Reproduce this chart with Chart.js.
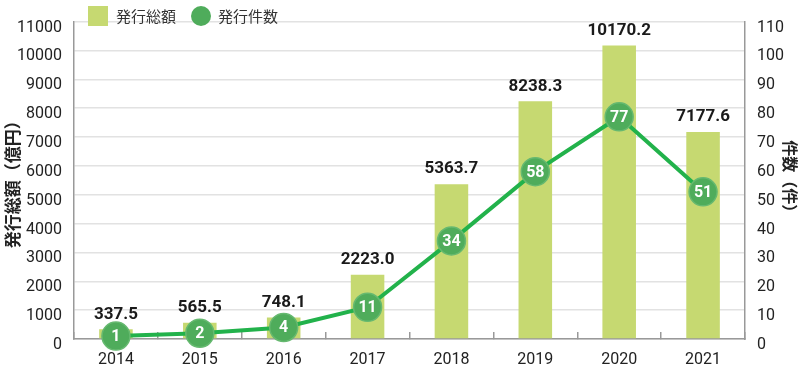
<!DOCTYPE html>
<html lang="ja">
<head>
<meta charset="utf-8">
<script src="https://cdn.jsdelivr.net/npm/chart.js@4"></script>
<style>
  html, body { margin: 0; padding: 0; background: #fff; }
  #wrap { width: 800px; height: 374px; }
</style>
</head>
<body>
<div id="wrap"><canvas id="chart" width="800" height="374"></canvas></div>
<script>
// データ
const years = ['2014', '2015', '2016', '2017', '2018', '2019', '2020', '2021'];
const amounts = [337.5, 565.5, 748.1, 2223.0, 5363.7, 8238.3, 10170.2, 7177.6]; // 発行総額（億円）
const counts = [1, 2, 4, 11, 34, 58, 77, 51]; // 発行件数（件）
const seriesNames = ['発行総額', '発行件数'];
const axisTitles = ['発行総額（億円）', '件数（件）'];

const FONT = "Roboto, 'Noto Sans CJK JP', sans-serif";
const JP_FONT = "'Noto Sans CJK JP', sans-serif";
const BAR_COLOR = '#c6d971';
const LINE_COLOR = '#22b24b';
const POINT_COLOR = '#4fac5b';

// 凡例（グラフ領域の左上に描画）
const legendPlugin = {
  id: 'topLegend',
  afterDraw(chart) {
    const ctx = chart.ctx;
    const y = 16;
    ctx.save();
    ctx.fillStyle = BAR_COLOR;
    ctx.fillRect(88, y - 10, 20, 20);
    ctx.fillStyle = POINT_COLOR;
    ctx.beginPath();
    ctx.arc(201, y, 10, 0, Math.PI * 2);
    ctx.fill();
    ctx.fillStyle = '#333';
    ctx.font = '15px ' + JP_FONT;
    ctx.textBaseline = 'middle';
    ctx.fillText(seriesNames[0], 116, y);
    ctx.fillText(seriesNames[1], 218, y);
    ctx.restore();
  }
};

// 値ラベル（棒の上と丸の中）
const valueLabels = {
  id: 'valueLabels',
  afterDatasetsDraw(chart) {
    const ctx = chart.ctx;
    ctx.save();
    ctx.textAlign = 'center';
    ctx.textBaseline = 'middle';
    ctx.font = 'bold 17px ' + FONT;
    ctx.fillStyle = '#1a1a1a';
    chart.getDatasetMeta(0).data.forEach((bar, i) => {
      ctx.fillText(amounts[i].toFixed(1), bar.x, bar.y - 15);
    });
    ctx.font = 'bold 16px ' + FONT;
    ctx.fillStyle = '#fff';
    chart.getDatasetMeta(1).data.forEach((pt, i) => {
      ctx.fillText(String(counts[i]), pt.x, pt.y + 1);
    });
    ctx.restore();
  }
};

const tickFont = { family: FONT, size: 16 };
const plain = (v) => String(v);

new Chart(document.getElementById('chart'), {
  data: {
    labels: years,
    datasets: [
      {
        type: 'bar',
        label: seriesNames[0],
        data: amounts,
        yAxisID: 'y',
        backgroundColor: BAR_COLOR,
        barPercentage: 0.4,
        categoryPercentage: 1,
        order: 1
      },
      {
        type: 'line',
        label: seriesNames[1],
        data: counts,
        yAxisID: 'y1',
        borderColor: LINE_COLOR,
        borderWidth: 4,
        tension: 0,
        pointRadius: 14,
        pointBackgroundColor: POINT_COLOR,
        pointBorderColor: '#66b970',
        pointBorderWidth: 1.5,
        clip: false,
        order: 0
      }
    ]
  },
  options: {
    responsive: false,
    animation: false,
    layout: { padding: { top: 1 } },
    plugins: {
      legend: { display: false },
      tooltip: { enabled: false }
    },
    scales: {
      x: {
        offset: true,
        grid: {
          display: true,
          drawOnChartArea: false,
          drawTicks: true,
          tickLength: -7,
          color: '#999',
          lineWidth: 1.5
        },
        border: { color: '#999', width: 1.5 },
        ticks: { font: tickFont, color: '#222', padding: 18, maxRotation: 0 },
        afterFit(scale) { scale.height = 35; }
      },
      y: {
        position: 'left',
        min: 0,
        max: 11000,
        grid: { color: '#e2e2e2', lineWidth: 1.5, drawTicks: false },
        border: { color: '#999', width: 1.5 },
        ticks: { stepSize: 1000, font: tickFont, color: '#222', padding: 12, labelOffset: 6, callback: plain },
        title: {
          display: true,
          text: axisTitles[0],
          font: { family: JP_FONT, size: 17, weight: 'bold', lineHeight: 1.2 },
          color: '#222',
          padding: { top: 2, bottom: 0 }
        },
        afterFit(scale) { scale.width = 74; }
      },
      y1: {
        position: 'right',
        min: 0,
        max: 110,
        grid: { drawOnChartArea: false, drawTicks: false },
        border: { color: '#999', width: 1.5 },
        ticks: { stepSize: 10, font: tickFont, color: '#222', padding: 12, labelOffset: 6, callback: plain },
        title: {
          display: true,
          text: axisTitles[1],
          font: { family: JP_FONT, size: 16, weight: 'bold', lineHeight: 1.2 },
          color: '#222',
          padding: { top: 0, bottom: 0 }
        },
        afterFit(scale) { scale.width = 55; }
      }
    }
  },
  plugins: [valueLabels, legendPlugin]
});
</script>
</body>
</html>
